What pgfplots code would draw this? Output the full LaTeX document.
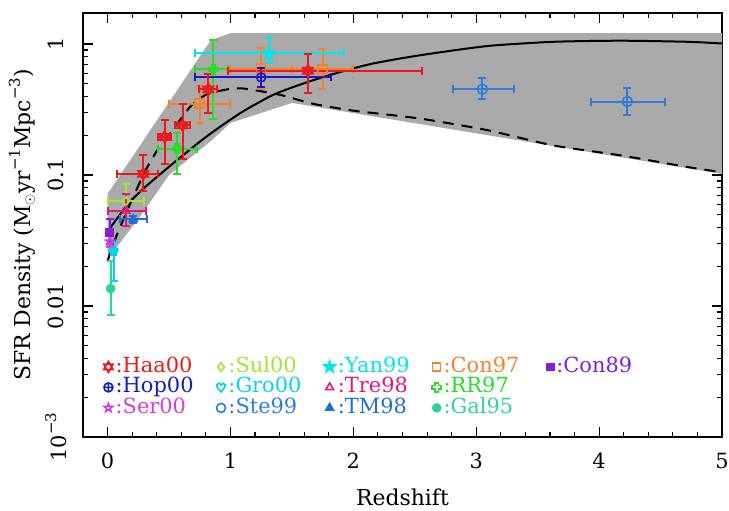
\documentclass[border=0pt]{standalone}
\usepackage{fontspec}
\setmainfont{DejaVu Serif}
\usepackage{pgfplots}
\pgfplotsset{compat=1.18}
\usetikzlibrary{plotmarks}

\definecolor{cHaa}{RGB}{235,25,25}
\definecolor{cHop}{RGB}{25,25,200}
\definecolor{cSer}{RGB}{215,60,220}
\definecolor{cSul}{RGB}{160,230,50}
\definecolor{cGro}{RGB}{0,215,235}
\definecolor{cSte}{RGB}{45,125,220}
\definecolor{cYan}{RGB}{0,230,235}
\definecolor{cTre}{RGB}{225,25,125}
\definecolor{cTM}{RGB}{30,110,215}
\definecolor{cConA}{RGB}{245,130,40}
\definecolor{cRR}{RGB}{40,220,40}
\definecolor{cGal}{RGB}{40,215,150}
\definecolor{cConB}{RGB}{130,30,220}
\definecolor{band}{RGB}{170,170,170}

\newcommand{\sups}[1]{\raisebox{0.5em}{\fontsize{15}{15}\selectfont #1}}

\pgfdeclareplotmark{hexagram}{%
  \pgfpathmoveto{\pgfpointpolar{90}{\pgfplotmarksize}}%
  \pgfpathlineto{\pgfpointpolar{210}{\pgfplotmarksize}}%
  \pgfpathlineto{\pgfpointpolar{330}{\pgfplotmarksize}}%
  \pgfpathclose
  \pgfpathmoveto{\pgfpointpolar{270}{\pgfplotmarksize}}%
  \pgfpathlineto{\pgfpointpolar{30}{\pgfplotmarksize}}%
  \pgfpathlineto{\pgfpointpolar{150}{\pgfplotmarksize}}%
  \pgfpathclose
  \pgfusepathqstroke}
\pgfdeclareplotmark{gcross}{%
  \pgfpathmoveto{\pgfpoint{0.38\pgfplotmarksize}{\pgfplotmarksize}}%
  \pgfpathlineto{\pgfpoint{0.38\pgfplotmarksize}{0.38\pgfplotmarksize}}%
  \pgfpathlineto{\pgfpoint{\pgfplotmarksize}{0.38\pgfplotmarksize}}%
  \pgfpathlineto{\pgfpoint{\pgfplotmarksize}{-0.38\pgfplotmarksize}}%
  \pgfpathlineto{\pgfpoint{0.38\pgfplotmarksize}{-0.38\pgfplotmarksize}}%
  \pgfpathlineto{\pgfpoint{0.38\pgfplotmarksize}{-\pgfplotmarksize}}%
  \pgfpathlineto{\pgfpoint{-0.38\pgfplotmarksize}{-\pgfplotmarksize}}%
  \pgfpathlineto{\pgfpoint{-0.38\pgfplotmarksize}{-0.38\pgfplotmarksize}}%
  \pgfpathlineto{\pgfpoint{-\pgfplotmarksize}{-0.38\pgfplotmarksize}}%
  \pgfpathlineto{\pgfpoint{-\pgfplotmarksize}{0.38\pgfplotmarksize}}%
  \pgfpathlineto{\pgfpoint{-0.38\pgfplotmarksize}{0.38\pgfplotmarksize}}%
  \pgfpathlineto{\pgfpoint{-0.38\pgfplotmarksize}{\pgfplotmarksize}}%
  \pgfpathclose
  \pgfusepathqstroke}
\pgfdeclareplotmark{fstar}{%
  \pgfpathmoveto{\pgfpointpolar{90}{\pgfplotmarksize}}%
  \pgfpathlineto{\pgfpointpolar{126}{0.4\pgfplotmarksize}}%
  \pgfpathlineto{\pgfpointpolar{162}{\pgfplotmarksize}}%
  \pgfpathlineto{\pgfpointpolar{198}{0.4\pgfplotmarksize}}%
  \pgfpathlineto{\pgfpointpolar{234}{\pgfplotmarksize}}%
  \pgfpathlineto{\pgfpointpolar{270}{0.4\pgfplotmarksize}}%
  \pgfpathlineto{\pgfpointpolar{306}{\pgfplotmarksize}}%
  \pgfpathlineto{\pgfpointpolar{342}{0.4\pgfplotmarksize}}%
  \pgfpathlineto{\pgfpointpolar{18}{\pgfplotmarksize}}%
  \pgfpathlineto{\pgfpointpolar{54}{0.4\pgfplotmarksize}}%
  \pgfpathclose
  \pgfusepathqfillstroke}
\pgfdeclareplotmark{ostar}{%
  \pgfpathmoveto{\pgfpointpolar{90}{\pgfplotmarksize}}%
  \pgfpathlineto{\pgfpointpolar{126}{0.4\pgfplotmarksize}}%
  \pgfpathlineto{\pgfpointpolar{162}{\pgfplotmarksize}}%
  \pgfpathlineto{\pgfpointpolar{198}{0.4\pgfplotmarksize}}%
  \pgfpathlineto{\pgfpointpolar{234}{\pgfplotmarksize}}%
  \pgfpathlineto{\pgfpointpolar{270}{0.4\pgfplotmarksize}}%
  \pgfpathlineto{\pgfpointpolar{306}{\pgfplotmarksize}}%
  \pgfpathlineto{\pgfpointpolar{342}{0.4\pgfplotmarksize}}%
  \pgfpathlineto{\pgfpointpolar{18}{\pgfplotmarksize}}%
  \pgfpathlineto{\pgfpointpolar{54}{0.4\pgfplotmarksize}}%
  \pgfpathclose
  \pgfusepathqstroke}
\pgfdeclareplotmark{heart}{%
  \pgfpathmoveto{\pgfpoint{0pt}{-\pgfplotmarksize}}%
  \pgfpathcurveto{\pgfpoint{-0.3\pgfplotmarksize}{-0.5\pgfplotmarksize}}{\pgfpoint{-1.1\pgfplotmarksize}{0pt}}{\pgfpoint{-0.9\pgfplotmarksize}{0.6\pgfplotmarksize}}%
  \pgfpathcurveto{\pgfpoint{-0.7\pgfplotmarksize}{1.1\pgfplotmarksize}}{\pgfpoint{-0.1\pgfplotmarksize}{1.0\pgfplotmarksize}}{\pgfpoint{0pt}{0.5\pgfplotmarksize}}%
  \pgfpathcurveto{\pgfpoint{0.1\pgfplotmarksize}{1.0\pgfplotmarksize}}{\pgfpoint{0.7\pgfplotmarksize}{1.1\pgfplotmarksize}}{\pgfpoint{0.9\pgfplotmarksize}{0.6\pgfplotmarksize}}%
  \pgfpathcurveto{\pgfpoint{1.1\pgfplotmarksize}{0pt}}{\pgfpoint{0.3\pgfplotmarksize}{-0.5\pgfplotmarksize}}{\pgfpoint{0pt}{-\pgfplotmarksize}}%
  \pgfpathclose
  \pgfusepathqstroke}

\pgfplotsset{
  ebxy/.style={error bars/.cd, x dir=both, x explicit, y dir=both, y explicit,
    error bar style={line width=2bp, draw=#1},
    error mark options={rotate=90, mark size=4bp, line width=2bp, draw=#1}},
  eby/.style={error bars/.cd, y dir=both, y explicit,
    error bar style={line width=2bp, draw=#1},
    error mark options={rotate=90, mark size=4bp, line width=2bp, draw=#1}},
  pts/.style={only marks, mark size=4.5bp, line width=1.6bp},
}

\begin{document}
\begin{tikzpicture}
\path[use as bounding box] (-83bp,-74bp) rectangle (646bp,437bp);
\begin{axis}[
  at={(0,0)}, anchor=south west,
  scale only axis, width=639bp, height=424bp,
  xmin=-0.2, xmax=5,
  ymode=log, ymin=0.001, ymax=1.725,
  xtick={0,1,2,3,4,5}, xticklabels={0,1,2,3,4,5},
  minor x tick num=4,
  ytick={0.001,0.01,0.1,1},
  yticklabels={10\sups{−3},0.01,0.1,1},
  minor ytick={0.002,0.003,0.004,0.005,0.006,0.007,0.008,0.009,0.02,0.03,0.04,0.05,0.06,0.07,0.08,0.09,0.2,0.3,0.4,0.5,0.6,0.7,0.8,0.9},
  major tick length=10bp, minor tick length=5bp,
  every tick/.style={black, line width=1.1bp},
  axis line style={line width=1.3bp},
  tick label style={font=\fontsize{21}{24}\selectfont},
  xticklabel style={anchor=center, yshift=-24bp},
  yticklabel style={anchor=center, xshift=-27bp, rotate=90},
  xlabel={Redshift},
  ylabel={SFR Density (M$_\odot$yr\sups{−1}Mpc\sups{−3})},
  every axis x label/.style={at={(axis description cs:0.5,-0.142)}, anchor=center, font=\fontsize{22}{26}\selectfont},
  every axis y label/.style={at={(axis description cs:-0.095,0.5)}, rotate=90, anchor=center, font=\fontsize{22}{26}\selectfont},
  legend columns=5,
  legend style={draw=none, fill=none, inner sep=0pt,
    at={(0.032,0.19)}, anchor=north west,
    font=\fontsize{21}{24}\selectfont,
    nodes={inner sep=0.5bp, text height=15bp, text depth=4.5bp},
    /tikz/every odd column/.append style={column sep=2bp},
    /tikz/every even column/.append style={column sep=22bp}},
  legend cell align=left,
]
% band
\addplot[fill=band, draw=none, forget plot] coordinates {
 (0,0.072) (0.84,1.07) (1.0,1.21) (5,1.21)
 (5,0.102) (1.5,0.355) (1.0,0.25) (0.85,0.185) (0.5,0.1) (0.25,0.046) (0,0.023)
};
% solid model
\addplot[black, line width=2bp, smooth, tension=0.4, forget plot] coordinates {
 (0,0.037) (0.166,0.060) (0.3,0.08) (0.53,0.122) (0.8,0.195) (1.08,0.297)
 (1.35,0.41) (1.62,0.51) (1.89,0.61) (2.16,0.71) (2.54,0.82) (3.09,0.965)
 (3.63,1.04) (4.18,1.06) (4.72,1.04) (5,1.01)
};
% dashed model
\addplot[black, line width=2bp, dash pattern=on 11bp off 8bp, smooth, tension=0.4, forget plot] coordinates {
 (0,0.022) (0.084,0.0365) (0.29,0.10) (0.42,0.163) (0.53,0.22) (0.67,0.33)
 (0.8,0.41) (0.97,0.45) (1.1,0.458) (1.4,0.41) (1.67,0.35) (2.0,0.31)
 (2.54,0.27) (3.09,0.22) (3.63,0.168) (4.18,0.141) (4.72,0.115) (5,0.105)
};
% Sul00
\addplot[pts, color=cSul, mark=diamond, forget plot, ebxy=cSul] table[x=x,y=y,x error minus=xm,x error plus=xp,y error minus=ym,y error plus=yp] {
x y xm xp ym yp
0.15 0.063 0.15 0.15 0.013 0.022
};
% Tre98
\addplot[pts, color=cTre, mark=triangle, forget plot, ebxy=cTre] table[x=x,y=y,x error minus=xm,x error plus=xp,y error minus=ym,y error plus=yp] {
x y xm xp ym yp
0.15 0.053 0.15 0.16 0.012 0.019
};
% TM98
\addplot[pts, color=cTM, mark=triangle*, forget plot, ebxy=cTM] table[x=x,y=y,x error minus=xm,x error plus=xp,y error minus=ym,y error plus=yp] {
x y xm xp ym yp
0.21 0.046 0.11 0.11 0.003 0.003
};
% Gal95
\addplot[pts, color=cGal, mark=*, mark size=4bp, forget plot, eby=cGal] table[x=x,y=y,y error minus=ym,y error plus=yp] {
x y ym yp
0.025 0.0136 0.005 0.0084
};
% Gro00
\addplot[pts, color=cGro, mark=heart, forget plot, ebxy=cGro] table[x=x,y=y,x error minus=xm,x error plus=xp,y error minus=ym,y error plus=yp] {
x y xm xp ym yp
0.05 0.026 0.02 0.02 0.0104 0.005
};
% Ser00
\addplot[pts, color=cSer, mark=ostar, forget plot, eby=cSer] table[x=x,y=y,y error minus=ym,y error plus=yp] {
x y ym yp
0.02 0.031 0.003 0.003
};
% Con89
\addplot[pts, color=cConB, mark=square*, mark size=4bp, forget plot, eby=cConB] table[x=x,y=y,y error minus=ym,y error plus=yp] {
x y ym yp
0.017 0.0365 0.0065 0.0095
};
% Con97
\addplot[pts, color=cConA, mark=square, forget plot, ebxy=cConA] table[x=x,y=y,x error minus=xm,x error plus=xp,y error minus=ym,y error plus=yp] {
x y xm xp ym yp
0.75 0.35 0.25 0.25 0.10 0.13
1.25 0.65 0.25 0.25 0.20 0.28
1.75 0.64 0.25 0.25 0.19 0.28
};
% RR97
\addplot[pts, color=cRR, mark=gcross, forget plot, ebxy=cRR] table[x=x,y=y,x error minus=xm,x error plus=xp,y error minus=ym,y error plus=yp] {
x y xm xp ym yp
0.565 0.159 0.155 0.165 0.057 0.051
0.86 0.64 0.15 0.12 0.37 0.43
};
% Yan99
\addplot[pts, color=cYan, mark=fstar, mark size=6bp, forget plot, ebxy=cYan] table[x=x,y=y,x error minus=xm,x error plus=xp,y error minus=ym,y error plus=yp] {
x y xm xp ym yp
1.31 0.848 0.60 0.61 0.128 0.292
};
% Hop00
\addplot[pts, color=cHop, mark=oplus, forget plot, ebxy=cHop] table[x=x,y=y,x error minus=xm,x error plus=xp,y error minus=ym,y error plus=yp] {
x y xm xp ym yp
1.25 0.556 0.54 0.57 0.086 0.104
};
% Haa00
\addplot[pts, color=cHaa, mark=hexagram, mark size=6bp, forget plot, ebxy=cHaa] table[x=x,y=y,x error minus=xm,x error plus=xp,y error minus=ym,y error plus=yp] {
x y xm xp ym yp
0.29 0.102 0.21 0.12 0.026 0.039
0.465 0.195 0.055 0.055 0.073 0.07
0.61 0.24 0.06 0.06 0.107 0.11
0.82 0.45 0.08 0.07 0.153 0.14
1.63 0.625 0.65 0.93 0.205 0.215
};
% Ste99
\addplot[pts, color=cSte, mark=o, mark size=5bp, forget plot, ebxy=cSte] table[x=x,y=y,x error minus=xm,x error plus=xp,y error minus=ym,y error plus=yp] {
x y xm xp ym yp
3.05 0.452 0.24 0.26 0.073 0.094
4.23 0.364 0.30 0.31 0.078 0.096
};
% legend
\addlegendimage{pts, color=cHaa, mark=hexagram, mark size=5.5bp}
\addlegendentry{\textcolor{cHaa}{:Haa00}}
\addlegendimage{pts, color=cSul, mark=diamond}
\addlegendentry{\textcolor{cSul}{:Sul00}}
\addlegendimage{pts, color=cYan, mark=fstar, mark size=6bp}
\addlegendentry{\textcolor{cYan}{:Yan99}}
\addlegendimage{pts, color=cConA, mark=square, mark size=4bp}
\addlegendentry{\textcolor{cConA}{:Con97}}
\addlegendimage{pts, color=cConB, mark=square*, mark size=3.5bp}
\addlegendentry{\textcolor{cConB}{:Con89}}
\addlegendimage{pts, color=cHop, mark=oplus}
\addlegendentry{\textcolor{cHop}{:Hop00}}
\addlegendimage{pts, color=cGro, mark=heart}
\addlegendentry{\textcolor{cGro}{:Gro00}}
\addlegendimage{pts, color=cTre, mark=triangle}
\addlegendentry{\textcolor{cTre}{:Tre98}}
\addlegendimage{pts, color=cRR, mark=gcross}
\addlegendentry{\textcolor{cRR}{:RR97}}
\addlegendimage{empty legend}
\addlegendentry{}
\addlegendimage{pts, color=cSer, mark=ostar}
\addlegendentry{\textcolor{cSer}{:Ser00}}
\addlegendimage{pts, color=cSte, mark=o}
\addlegendentry{\textcolor{cSte}{:Ste99}}
\addlegendimage{pts, color=cTM, mark=triangle*}
\addlegendentry{\textcolor{cTM}{:TM98}}
\addlegendimage{pts, color=cGal, mark=*, mark size=4bp}
\addlegendentry{\textcolor{cGal}{:Gal95}}
\end{axis}
\end{tikzpicture}
\end{document}
